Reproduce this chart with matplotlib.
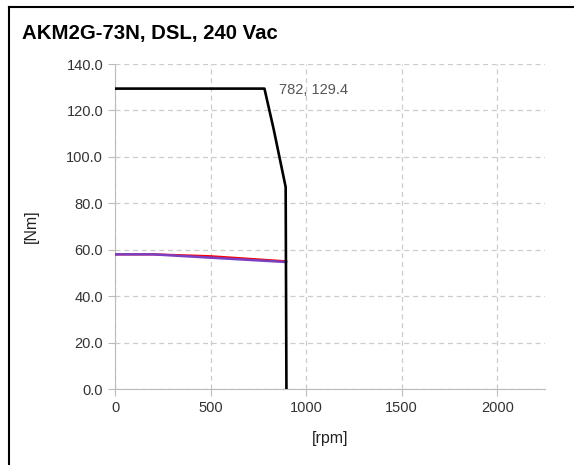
import numpy as np
import matplotlib.pyplot as plt
from matplotlib.lines import Line2D

plt.rcParams['font.family'] = ['Liberation Sans', 'DejaVu Sans']

title = 'AKM2G-73N, DSL, 240 Vac'

# peak torque envelope
peak_rpm = [0, 782, 830, 893, 897]
peak_nm = [129.4, 129.4, 112.0, 87.0, 0.0]

# continuous torque curves
cont_red_rpm = [0, 200, 500, 895]
cont_red_nm = [58.0, 58.0, 57.2, 55.0]
cont_pur_rpm = [0, 200, 895]
cont_pur_nm = [58.0, 58.0, 54.7]

xticks = [0, 500, 1000, 1500, 2000]
yticks = [0, 20, 40, 60, 80, 100, 120, 140]

fig = plt.figure(figsize=(5.74, 4.65), dpi=100)
ax = fig.add_axes([115/574, 76/465, 430/574, 325/465])

ax.plot(cont_red_rpm, cont_red_nm, color='#ff0000', lw=1.6, zorder=3)
ax.plot(cont_pur_rpm, cont_pur_nm, color='#7b3fc4', lw=1.8, zorder=4)
ax.plot(peak_rpm, peak_nm, color='black', lw=1.9, zorder=5)

ax.text(peak_rpm[1] + 75, peak_nm[1] - 0.5, '%d, %.1f' % (peak_rpm[1], peak_nm[1]),
        fontsize=10.5, color='#555555', va='center', ha='left')

ax.set_xlim(0, 2250)
ax.set_ylim(0, 140)
ax.set_xticks(xticks)
ax.set_yticks(yticks)
ax.set_yticklabels(['%.1f' % v for v in yticks])
ax.grid(True, color='#cccccc', linestyle=(0, (4, 3)), lw=0.9)
ax.set_axisbelow(True)
for side in ['top', 'right']:
    ax.spines[side].set_visible(False)
for side in ['left', 'bottom']:
    ax.spines[side].set_color('#bbbbbb')
ax.tick_params(colors='#bbbbbb', labelcolor='#333333', labelsize=10.5, length=5)

ax.set_xlabel('[rpm]', fontsize=11.5, color='#222222', labelpad=12)
ax.set_ylabel('[Nm]', fontsize=11.5, color='#222222', labelpad=20)

fig.text(22/574, 1 - 33/465, title, fontsize=14.7, fontweight='bold', va='center', ha='left')

# outer frame (top and left edges)
fig.add_artist(Line2D([9/574, 9/574], [0, 1 - 7/465], color='black', lw=1.5, transform=fig.transFigure))
fig.add_artist(Line2D([9/574, 1], [1 - 7/465, 1 - 7/465], color='black', lw=1.5, transform=fig.transFigure))

fig.savefig('out.png', dpi=100)
